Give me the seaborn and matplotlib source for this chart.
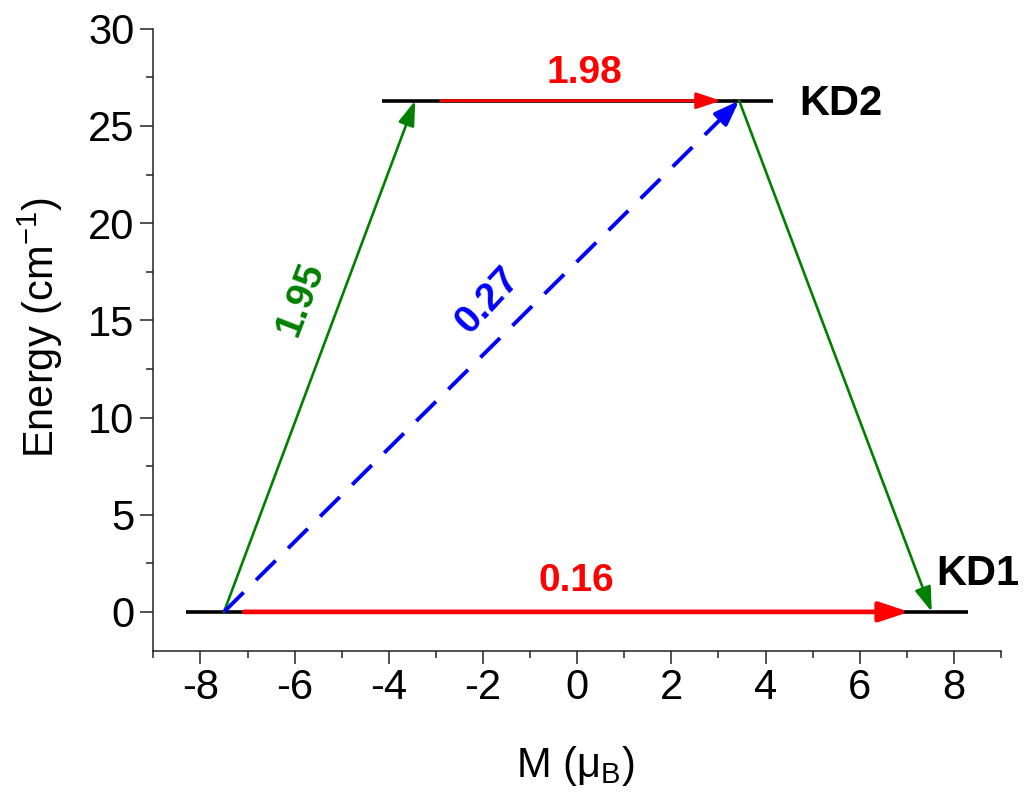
import pandas as pd
import matplotlib
matplotlib.use('Agg')
import matplotlib.pyplot as plt
import numpy as np
import seaborn as sns
from matplotlib.ticker import MultipleLocator

# Kramers doublets: energy and horizontal extent of the level bars
kd_names = ['KD1', 'KD2']
kd_energy = [0.0, 26.3]
kd_left = [-8.3, -4.15]
kd_right = [8.3, 4.15]

# magnetic moment of the two states in each doublet
kd_m_minus = [-7.5, -3.44]
kd_m_plus = [7.53, 3.44]

# red (QTM) arrows within a doublet: start / end of the arrow along M
qtm_start = [-7.07, -2.9]
qtm_end = [7.05, 3.05]
qtm_values = ['0.16', '1.98']

# green (Orbach) arrows and the blue dashed one
orbach_values = ['1.95']
blue_value = '0.27'

sns.set_style('ticks')
plt.rcParams['font.family'] = ['Liberation Sans', 'DejaVu Sans']
plt.rcParams['mathtext.fontset'] = 'custom'
plt.rcParams['mathtext.rm'] = 'Liberation Sans'
plt.rcParams['mathtext.it'] = 'Liberation Sans:italic'
plt.rcParams['axes.unicode_minus'] = False

fig = plt.figure(figsize=(10.34, 7.93), dpi=100)
ax = fig.add_axes([0.1483, 0.1794, 0.8198, 0.7843])
ax.set_xlim(-9, 9)
ax.set_ylim(-2, 30)

RED = '#ff0000'
GREEN = '#008000'
BLUE = '#0000ff'

# level bars
for e, l, r in zip(kd_energy, kd_left, kd_right):
    sns.lineplot(x=[l, r], y=[e, e], color='black', lw=2.6, ax=ax,
                 solid_capstyle='butt', zorder=2)


def arrow(x0, y0, x1, y1, color, lw, hl, hw):
    ax.annotate('', xy=(x1, y1), xytext=(x0, y0),
                arrowprops=dict(arrowstyle='-|>,head_length=%g,head_width=%g' % (hl, hw),
                                mutation_scale=1, color=color, lw=lw,
                                shrinkA=0, shrinkB=0), zorder=3)


# QTM arrows (red)
arrow(qtm_start[0], kd_energy[0], qtm_end[0], kd_energy[0], RED, 3.4, 18, 6)
arrow(qtm_start[1], kd_energy[1], qtm_end[1], kd_energy[1], RED, 2.0, 15, 5)

# Orbach arrows (green)
arrow(kd_m_minus[0], kd_energy[0], kd_m_minus[1], kd_energy[1], GREEN, 1.9, 15, 5)
arrow(kd_m_plus[1], kd_energy[1], kd_m_plus[0], kd_energy[0], GREEN, 1.9, 15, 5)

# blue dashed arrow: dashed shaft + solid head
x0, y0 = kd_m_minus[0], kd_energy[0]
x1, y1 = kd_m_plus[1], kd_energy[1]
blue_lw = 2.8
head_len = 15
p0 = ax.transData.transform((x0, y0))
p1 = ax.transData.transform((x1, y1))
length_pt = np.hypot(*(p1 - p0)) * 72 / fig.dpi
shaft_pt = length_pt - head_len
frac = shaft_pt / length_pt
# stretch the dash so the pattern ends on a full dash at the head
gap = 4.5
n = round((shaft_pt / blue_lw + gap) / 11.5)
on = (shaft_pt / blue_lw + gap) / n - gap
sns.lineplot(x=[x0, x0 + frac * (x1 - x0)], y=[y0, y0 + frac * (y1 - y0)],
             color=BLUE, lw=blue_lw, linestyle=(0, (on, gap)), ax=ax, zorder=3)
arrow(x0 + 0.985 * (x1 - x0), y0 + 0.985 * (y1 - y0), x1, y1, BLUE, blue_lw, head_len, 5.5)

# value labels
ax.text(-0.02, 1.6, qtm_values[0], color=RED, fontsize=28, fontweight='bold',
        ha='center', va='center')
ax.text(0.15, 27.75, qtm_values[1], color=RED, fontsize=28, fontweight='bold',
        ha='center', va='center')
ax.text(-5.86, 16.1, orbach_values[0], color=GREEN, fontsize=28, fontweight='bold',
        ha='center', va='center', rotation=69)
ax.text(-1.9, 16.0, blue_value, color=BLUE, fontsize=28, fontweight='bold',
        ha='center', va='center', rotation=47)
ax.text(4.72, 26.15, kd_names[1], color='black', fontsize=30, fontweight='bold',
        ha='left', va='center')
ax.text(7.62, 1.96, kd_names[0], color='black', fontsize=30, fontweight='bold',
        ha='left', va='center')

ax.xaxis.set_major_locator(MultipleLocator(2))
ax.xaxis.set_minor_locator(MultipleLocator(1))
ax.yaxis.set_major_locator(MultipleLocator(5))
ax.yaxis.set_minor_locator(MultipleLocator(2.5))
ax.tick_params(which='major', length=9.5, width=1.1, labelsize=30,
               color='#222222', labelcolor='black')
ax.tick_params(which='minor', length=4.8, width=1.1, color='#222222')
ax.tick_params(axis='x', which='major', pad=3)
ax.tick_params(axis='y', which='major', pad=4)
sns.despine(ax=ax)
for s in ['left', 'bottom']:
    ax.spines[s].set_linewidth(1.1)
    ax.spines[s].set_color('#222222')

ax.set_xlabel('M (μ$_\\mathrm{B}$)', fontsize=30, color='black')
ax.set_ylabel('Energy (cm$^{\\mathrm{-1}}$)', fontsize=30, color='black')
ax.xaxis.set_label_coords(0.4975, -0.15)
ax.yaxis.set_label_coords(-0.104, 0.52)

fig.savefig('out.png', dpi=100)
